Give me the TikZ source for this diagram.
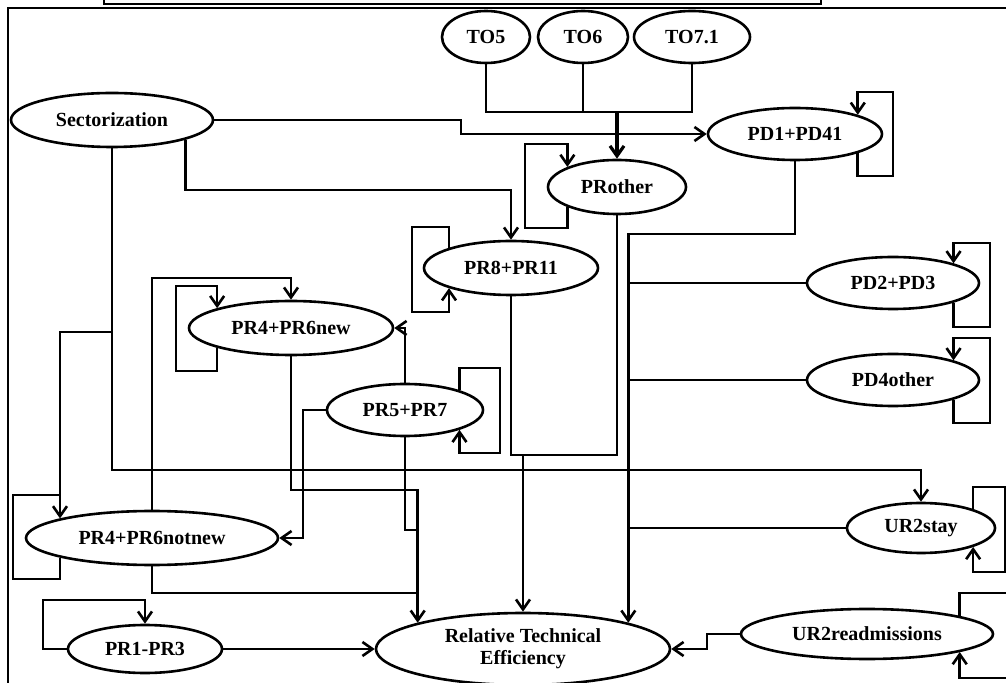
\documentclass[tikz,border=0pt]{standalone}
\usepackage{fontspec}
\setmainfont{Liberation Serif}
\usetikzlibrary{shapes.geometric,arrows.meta}

\begin{document}
\begin{tikzpicture}[x=.5pt, y=-.5pt,
  every node/.style={font=\bfseries\fontsize{10}{11}\selectfont},
  var/.style={ellipse, draw, line width=1.3pt, inner sep=0pt},
  link/.style={line width=1.3pt},
  arr/.style={link, -{Straight Barb[length=5pt,width=7pt]}}]
  \clip (0,0) rectangle (1006,683);
  % frame
  \draw[line width=1pt] (8,683) -- (8,8) -- (1006,8);
  \draw[line width=1.2pt] (104,-2) -- (104,4) -- (821,4) -- (821,-2);
  % variables
  \node[var, minimum width=44pt, minimum height=26pt] (to5) at (486,37) {TO5};
  \node[var, minimum width=45pt, minimum height=26pt] (to6) at (583,37) {TO6};
  \node[var, minimum width=58pt, minimum height=26pt] (to71) at (692,37) {TO7.1};
  \node[var, minimum width=101pt, minimum height=27pt] (sect) at (112,120) {Sectorization};
  \node[var, minimum width=87pt, minimum height=26pt] (pd1) at (795,134) {PD1+PD41};
  \node[var, minimum width=69pt, minimum height=27pt] (proth) at (617,187) {PRother};
  \node[var, minimum width=87pt, minimum height=27pt] (pr8) at (511,268) {PR8+PR11};
  \node[var, minimum width=102pt, minimum height=27pt] (pr4new) at (291,328) {PR4+PR6new};
  \node[var, minimum width=78pt, minimum height=26pt] (pr57) at (405,410) {PR5+PR7};
  \node[var, minimum width=126pt, minimum height=27pt] (pr4not) at (152,538) {PR4+PR6notnew};
  \node[var, minimum width=77pt, minimum height=24pt] (pr13) at (145,649) {PR1-PR3};
  \node[var, minimum width=147pt, minimum height=36pt, align=center] (rte) at (523,649) {Relative Technical\\Efficiency};
  \node[var, minimum width=86pt, minimum height=26pt] (pd23) at (893,283) {PD2+PD3};
  \node[var, minimum width=86pt, minimum height=26pt] (pd4) at (893,380) {PD4other};
  \node[var, minimum width=74pt, minimum height=25pt] (ur2s) at (921,528) {UR2stay};
  \node[var, minimum width=126pt, minimum height=25pt] (ur2r) at (867,634) {UR2readmissions};
  % junctions
  \coordinate (tobus) at (617,112);
  \coordinate (pdbus) at (rte.14 |- 0,234);
  \coordinate (prbus) at (523,455);
  \coordinate (rtebus) at (rte.166 |- 0,490);
  % TO group into PRother
  \draw[link] (to5.south) |- (to71.south |- tobus) -- (to71.south);
  \draw[link] (to6.south) -- (to6.south |- tobus);
  \draw[arr, line width=1.6pt] (tobus) -- (proth.north);
  % from Sectorization
  \draw[arr] (sect.east) -- (461,120) |- (pd1.west);
  \draw[arr] (sect.-15) |- (511,190) -- (pr8.north);
  \draw[arr] (sect.south) -- (112,470) -| (ur2s.north);
  \draw[arr] (sect.south) -- (112,332) -| (pr4not.168);
  % PR paths into efficiency
  \draw[link] (proth.south) |- (511,455) -- (pr8.south);
  \draw[arr] (prbus) -- (rte.north);
  \draw[arr] (pr4new.south) |- (rtebus) -- (rte.166);
  \draw[link] (pr57.south) |- (rtebus |- 0,530);
  \draw[link] (pr4not.south) |- (rtebus |- 0,593);
  \draw[arr] (pr4not.north) -- (152,278) -| (pr4new.north);
  \draw[arr] (pr57.north) |- (pr4new.east);
  \draw[arr] (pr57.west) -- (303,410) |- (pr4not.east);
  \draw[arr] (pr13.east) -- (rte.west);
  % PD and UR paths into efficiency
  \draw[arr] (pd1.south) |- (pdbus) -- (rte.14);
  \draw[link] (pd23.west) -- (pdbus |- pd23.west);
  \draw[link] (pd4.west) -- (pdbus |- pd4.west);
  \draw[link] (ur2s.west) -- (pdbus |- ur2s.west);
  \draw[arr] (ur2r.west) -- (707,634) |- (rte.east);
  % self loops
  \draw[arr] (pd1.-17) |- (893,176) -- (893,92) -| (pd1.17);
  \draw[arr] (proth.202) |- (525,228) -- (525,144) -| (proth.158);
  \draw[arr] (pr8.162) |- (412,227) -- (412,312) -| (pr8.198);
  \draw[arr] (pr4new.195) |- (176,371) -- (176,286) -| (pr4new.165);
  \draw[arr] (pr57.20) |- (500,368) -- (500,453) -| (pr57.-20);
  \draw[link] (pr4not.192) |- (13,579) |- (pr4not.168 |- 0,495);
  \draw[arr] (pr13.west) -| (43,600) -| (pr13.north);
  \draw[arr] (pd23.-18) |- (990,327) -- (990,243) -| (pd23.18);
  \draw[arr] (pd4.-18) |- (990,423) -- (990,338) -| (pd4.18);
  \draw[arr] (ur2s.20) |- (1005,487) -- (1005,572) -| (ur2s.-20);
  \draw[arr] (ur2r.11) |- (1010,593) -- (1010,678) -| (ur2r.-11);
\end{tikzpicture}
\end{document}
